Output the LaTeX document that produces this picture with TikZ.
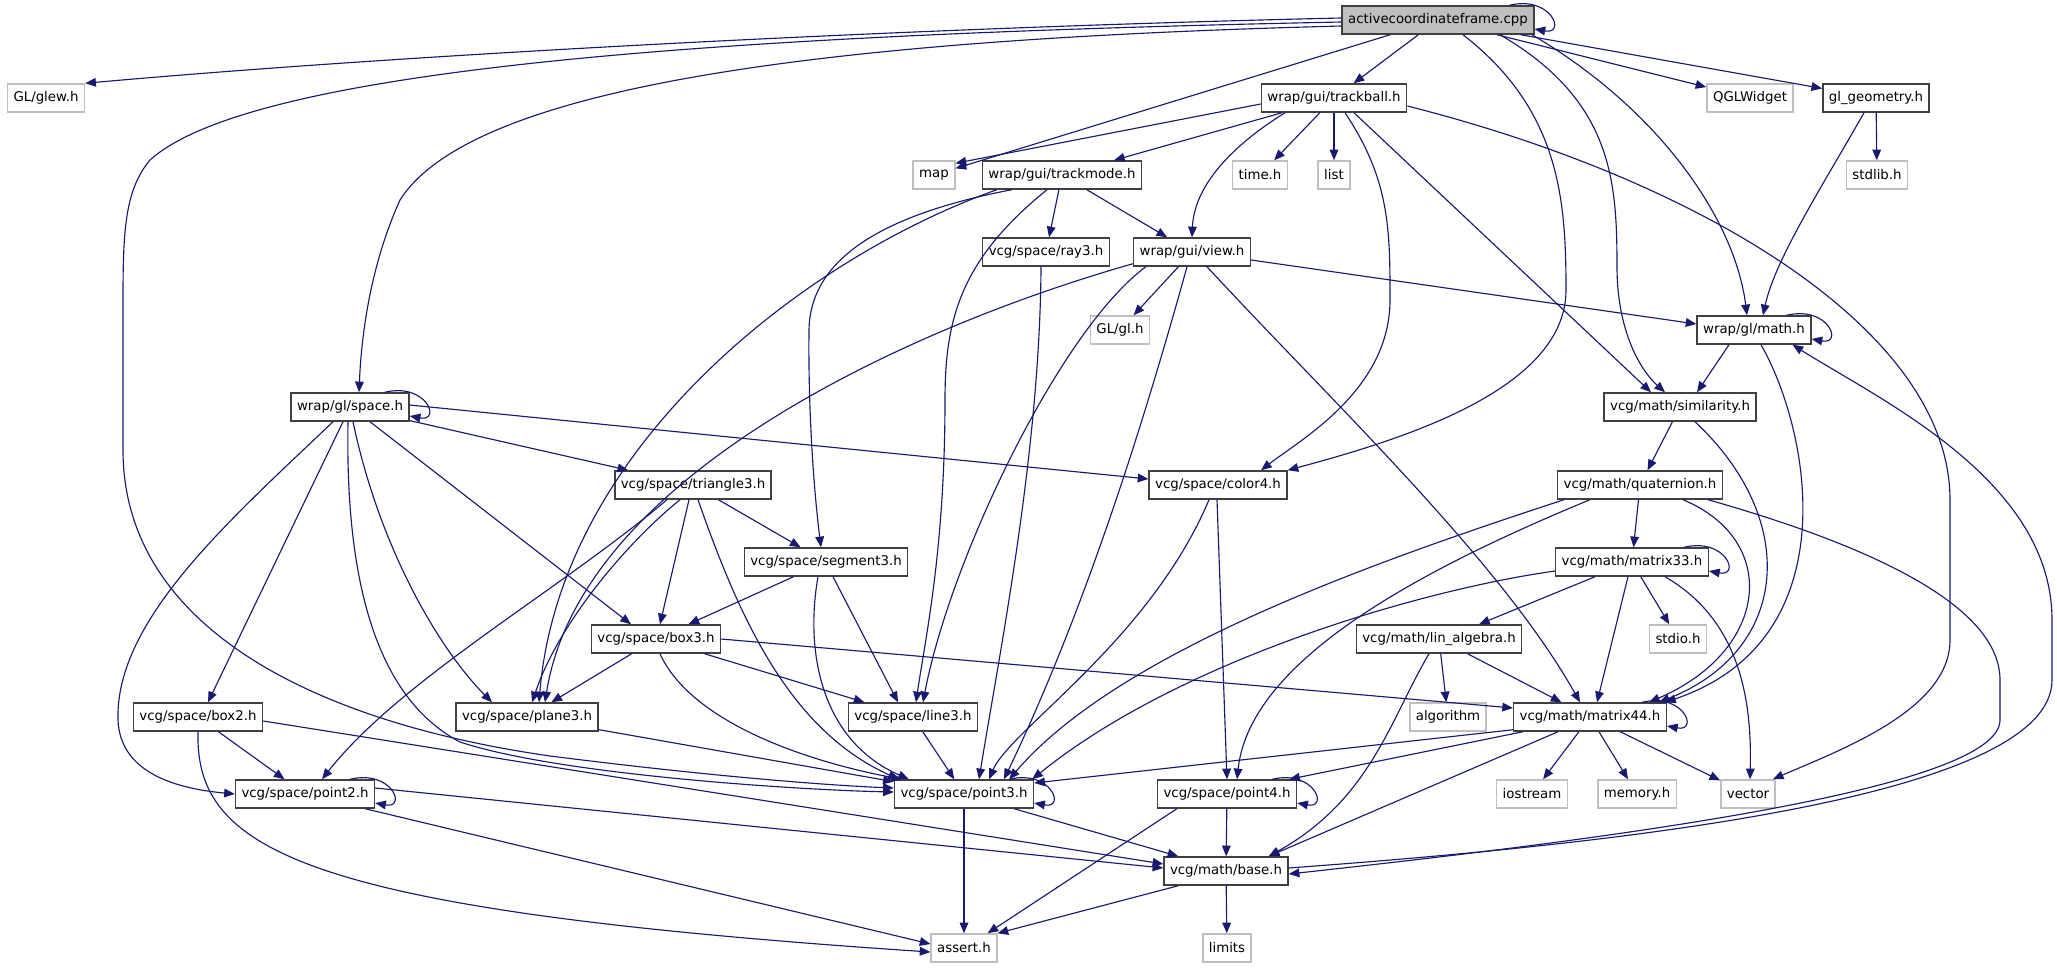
\documentclass[tikz,border=0pt]{standalone}
\usepackage{fontspec}
\setmainfont{DejaVu Sans}
\usetikzlibrary{arrows.meta,calc}
\definecolor{edgeblue}{HTML}{191970}
\definecolor{hdrgray}{HTML}{404040}
\definecolor{sysgray}{HTML}{BFBFBF}
\definecolor{rootgray}{HTML}{BFBFBF}
\begin{document}
\begin{tikzpicture}[x=0.75pt, y=-0.75pt,
	hdr/.style={draw=hdrgray, line width=1.1pt, fill=white, font=\fontsize{10}{12}\selectfont, minimum height=21pt, inner xsep=4.5pt, inner ysep=0pt},
	sys/.style={hdr, draw=sysgray},
	root/.style={hdr, fill=rootgray},
	dep/.style={edgeblue, line width=0.85pt, -{Triangle[length=8pt, width=6.5pt]}}]
	\path[use as bounding box, fill=white] (0,0) rectangle (2057,968);
	\node[root] (A) at (1438,20) {activecoordinateframe.cpp};
	\node[sys] (glew) at (46,98) {GL/glew.h};
	\node[hdr] (T) at (1334,98) {wrap/gui/trackball.h};
	\node[sys] (qgl) at (1750,98) {QGLWidget};
	\node[hdr] (glgeom) at (1876,98) {gl\_geometry.h};
	\node[sys] (map) at (934,175) {map};
	\node[hdr] (tmode) at (1062,175) {wrap/gui/trackmode.h};
	\node[sys] (time) at (1260,175) {time.h};
	\node[sys] (list) at (1334,175) {list};
	\node[sys] (stdlib) at (1877,175) {stdlib.h};
	\node[hdr] (ray3) at (1046,252) {vcg/space/ray3.h};
	\node[hdr] (view) at (1192,252) {wrap/gui/view.h};
	\node[sys] (gl) at (1120,330) {GL/gl.h};
	\node[hdr] (math) at (1754,330) {wrap/gl/math.h};
	\node[hdr] (space) at (350,407) {wrap/gl/space.h};
	\node[hdr] (simil) at (1680,407) {vcg/math/similarity.h};
	\node[hdr] (tri) at (693,485) {vcg/space/triangle3.h};
	\node[hdr] (color) at (1218,485) {vcg/space/color4.h};
	\node[hdr] (quat) at (1640,485) {vcg/math/quaternion.h};
	\node[hdr] (seg) at (826,562) {vcg/space/segment3.h};
	\node[hdr] (m33) at (1632,562) {vcg/math/matrix33.h};
	\node[hdr] (box3) at (656,639) {vcg/space/box3.h};
	\node[hdr] (linalg) at (1439,639) {vcg/math/lin\_algebra.h};
	\node[sys] (stdio) at (1678,639) {stdio.h};
	\node[hdr] (box2) at (198,717) {vcg/space/box2.h};
	\node[hdr] (plane) at (527,717) {vcg/space/plane3.h};
	\node[hdr] (line) at (913,717) {vcg/space/line3.h};
	\node[sys] (algo) at (1448,717) {algorithm};
	\node[hdr] (m44) at (1590,717) {vcg/math/matrix44.h};
	\node[hdr] (pt2) at (305,794) {vcg/space/point2.h};
	\node[hdr] (pt3) at (964,794) {vcg/space/point3.h};
	\node[hdr] (pt4) at (1227,794) {vcg/space/point4.h};
	\node[sys] (iostream) at (1532,794) {iostream};
	\node[sys] (memory) at (1637,794) {memory.h};
	\node[sys] (vector) at (1748,794) {vector};
	\node[hdr] (base) at (1226,871) {vcg/math/base.h};
	\node[sys] (assert) at (964,948) {assert.h};
	\node[sys] (limits) at (1227,948) {limits};
	\foreach \n in {A,math,space,m33,m44,pt2,pt3,pt4}
		\draw[dep] ($(\n.north east)+(-25,0)$) .. controls +(42,-10) and +(32,6) .. ($(\n.east)+(0,9)$);
	\draw[dep] ($(A.west)+(0,-2)$) .. controls (900,28) and (400,55) .. (glew.north east);
	\draw[dep] ($(A.west)+(0,6)$) .. controls (800,40) and (470,90) .. (400,200) .. controls (375,255) and (362,320) .. ($(space.north)+(9,0)$);
	\draw[dep] ($(A.west)+(0,2)$) .. controls (700,35) and (250,70) .. (150,160) .. controls (125,190) and (123,230) .. (123,300) -- (123,450) .. controls (123,620) and (300,720) .. (550,756) .. controls (700,775) and (820,785) .. ($(pt3.west)+(0,-6)$);
	\draw[dep] (A) -- (map);
	\draw[dep] (A) -- (T);
	\draw[dep] ($(A.south)+(25,0)$) .. controls (1560,110) and (1566,200) .. (1566,290) .. controls (1566,390) and (1400,440) .. (color.north east);
	\draw[dep] ($(A.south)+(62,0)$) .. controls (1612,100) and (1617,180) .. (1617,267) .. controls (1617,330) and (1640,370) .. ($(simil.north)+(-15,0)$);
	\draw[dep] ($(A.south)+(94,0)$) .. controls (1660,110) and (1735,220) .. ($(math.north)+(-7,0)$);
	\draw[dep] (A) -- (qgl);
	\draw[dep] (A) -- (glgeom);
	\draw[dep] ($(T.west)+(0,6)$) -- ($(map.north east)+(0,3)$);
	\draw[dep] (T) -- (tmode);
	\draw[dep] (T) -- (time);
	\draw[dep] (T) -- (list);
	\draw[dep] ($(T.south)+(-49,0)$) .. controls (1225,150) and (1194,190) .. (view.north);
	\draw[dep] ($(T.south)+(11,0)$) .. controls (1390,180) and (1390,230) .. (1390,300) .. controls (1390,390) and (1300,440) .. ($(color.north)+(43,0)$);
	\draw[dep] ($(T.south)+(20,0)$) -- ($(simil.north)+(-29,0)$);
	\draw[dep] ($(T.east)+(0,8)$) .. controls (1700,180) and (1950,330) .. (1950,500) -- (1950,640) .. controls (1950,710) and (1840,750) .. ($(vector.north east)+(-3,0)$);
	\draw[dep] (glgeom) -- (stdlib);
	\draw[dep] ($(glgeom.south)+(-12,0)$) .. controls (1820,190) and (1775,260) .. ($(math.north)+(9,0)$);
	\draw[dep] (tmode) -- (ray3);
	\draw[dep] (tmode) -- (view);
	\draw[dep] ($(tmode.south west)+(15,0)$) .. controls (800,260) and (560,450) .. ($(plane.north)+(12,0)$);
	\draw[dep] ($(tmode.south west)+(30,0)$) .. controls (880,215) and (810,260) .. (809,330) .. controls (808,420) and (815,500) .. ($(seg.north)+(-5,0)$);
	\draw[dep] ($(tmode.south)+(-15,0)$) .. controls (960,260) and (945,320) .. (945,400) .. controls (945,550) and (925,640) .. ($(line.north)+(3,0)$);
	\draw[dep] ($(ray3.south)+(-5,0)$) .. controls (1040,450) and (1000,650) .. ($(pt3.north)+(15,0)$);
	\draw[dep] (view) -- (gl);
	\draw[dep] ($(view.east)+(0,8)$) -- ($(math.west)+(0,-6)$);
	\draw[dep] ($(view.south west)+(0,-3)$) .. controls (900,330) and (580,480) .. ($(plane.north)+(18,0)$);
	\draw[dep] ($(view.south west)+(13,0)$) .. controls (1060,330) and (950,560) .. ($(line.north)+(10,0)$);
	\draw[dep] ($(view.south)+(-5,0)$) .. controls (1150,400) and (1090,600) .. ($(pt3.north)+(40,0)$);
	\draw[dep] ($(view.south)+(15,0)$) .. controls (1330,400) and (1500,560) .. ($(m44.north)+(-10,0)$);
	\draw[dep] ($(math.south)+(-25,0)$) -- ($(simil.north)+(17,0)$);
	\draw[dep] ($(math.south)+(7,0)$) .. controls (1810,430) and (1850,640) .. ($(m44.north east)+(-2,0)$);
	\draw[dep] ($(base.east)+(0,-3)$) .. controls (1600,845) and (2052,800) .. (2052,680) -- (2052,620) .. controls (2052,480) and (1880,400) .. ($(math.south east)+(-19,0)$);
	\draw[dep] (space) -- (tri);
	\draw[dep] ($(space.east)+(0,-2)$) -- ($(color.west)+(0,-6)$);
	\draw[dep] ($(space.south)+(20,0)$) -- ($(box3.north)+(-25,0)$);
	\draw[dep] ($(space.south)+(-7,0)$) -- ($(box2.north)+(10,0)$);
	\draw[dep] ($(space.south)+(-17,0)$) .. controls (230,520) and (115,620) .. (118,720) .. controls (120,770) and (170,788) .. (pt2.west);
	\draw[dep] ($(space.south)+(-2,0)$) .. controls (345,590) and (380,700) .. (460,742) .. controls (560,775) and (800,790) .. ($(pt3.west)+(0,-2)$);
	\draw[dep] ($(space.south)+(3,0)$) .. controls (380,550) and (440,650) .. ($(plane.north)+(-35,0)$);
	\draw[dep] (simil) -- (quat);
	\draw[dep] ($(simil.south)+(15,0)$) .. controls (1800,520) and (1790,650) .. ($(m44.north east)+(-8,0)$);
	\draw[dep] (tri) -- (seg);
	\draw[dep] ($(tri.south)+(-4,0)$) -- ($(box3.north)+(4,0)$);
	\draw[dep] ($(tri.south)+(-13,0)$) .. controls (630,540) and (560,620) .. ($(plane.north)+(5,0)$);
	\draw[dep] ($(tri.south)+(-26,0)$) .. controls (560,590) and (400,680) .. ($(pt2.north)+(17,0)$);
	\draw[dep] ($(tri.south)+(5,0)$) .. controls (740,620) and (790,730) .. ($(pt3.north west)+(5,0)$);
	\draw[dep] ($(color.south)+(-9,0)$) .. controls (1150,640) and (1010,730) .. ($(pt3.north)+(25,0)$);
	\draw[dep] ($(color.south)+(-1,0)$) -- (pt4.north);
	\draw[dep] (quat) -- (m33);
	\draw[dep] ($(quat.south west)+(7,0)$) .. controls (1380,560) and (1120,650) .. ($(pt3.north east)+(-25,0)$);
	\draw[dep] ($(quat.south west)+(33,0)$) .. controls (1420,570) and (1250,660) .. ($(pt4.north)+(10,0)$);
	\draw[dep] ($(quat.south)+(43,0)$) .. controls (1780,540) and (1770,650) .. ($(m44.north east)+(-18,0)$);
	\draw[dep] ($(quat.south east)+(-15,0)$) .. controls (1850,540) and (2000,600) .. (2000,680) -- (2000,720) .. controls (2000,790) and (1600,840) .. ($(base.east)+(0,3)$);
	\draw[dep] (seg) -- (box3);
	\draw[dep] ($(seg.south)+(-8,0)$) .. controls (805,650) and (820,740) .. ($(pt3.north west)+(15,0)$);
	\draw[dep] ($(seg.south)+(7,0)$) -- ($(line.north)+(-15,0)$);
	\draw[dep] ($(m33.south)+(-37,0)$) -- ($(linalg.north)+(40,0)$);
	\draw[dep] ($(m33.west)+(0,9)$) .. controls (1420,590) and (1180,660) .. ($(pt3.north east)+(-2,0)$);
	\draw[dep] ($(m33.south)+(-4,0)$) -- ($(m44.north)+(7,0)$);
	\draw[dep] (m33) -- (stdio);
	\draw[dep] ($(m33.south)+(33,0)$) .. controls (1740,620) and (1752,700) .. ($(vector.north)+(2,0)$);
	\draw[dep] (box3) -- (plane);
	\draw[dep] (box3) -- (line);
	\draw[dep] ($(box3.south)+(4,0)$) .. controls (690,720) and (800,760) .. ($(pt3.north west)+(8,0)$);
	\draw[dep] (box3.east) -- ($(m44.west)+(0,-9)$);
	\draw[dep] (linalg) -- (algo);
	\draw[dep] (linalg) -- (m44);
	\draw[dep] ($(linalg.south)+(-10,0)$) .. controls (1390,720) and (1370,800) .. ($(base.north east)+(-20,0)$);
	\draw[dep] (box2) -- (pt2);
	\draw[dep] ($(box2.east)+(0,4)$) -- ($(base.west)+(0,-7)$);
	\draw[dep] (box2.south) .. controls (195,850) and (300,910) .. ($(assert.west)+(0,4)$);
	\draw[dep] (plane) -- (pt3);
	\draw[dep] (line) -- (pt3);
	\draw[dep] ($(m44.south west)+(0,-2)$) -- ($(pt3.east)+(0,-11)$);
	\draw[dep] ($(m44.south west)+(10,0)$) -- ($(pt4.north east)+(-8,0)$);
	\draw[dep] (m44) -- (iostream);
	\draw[dep] (m44) -- (memory);
	\draw[dep] (m44) -- (vector);
	\draw[dep] ($(m44.south)+(-32,0)$) -- ($(base.north east)+(-20,0)$);
	\draw[dep] ($(pt2.east)+(0,-6)$) -- ($(base.west)+(0,-3)$);
	\draw[dep] ($(pt2.south east)+(-10,0)$) -- ($(assert.west)+(0,-4)$);
	\draw[dep] ($(pt3.south east)+(-20,0)$) -- ($(base.north west)+(15,0)$);
	\draw[dep] (pt3) -- (assert);
	\draw[dep] (pt4) -- (base);
	\draw[dep] ($(pt4.south west)+(20,0)$) -- ($(assert.north east)+(-10,0)$);
	\draw[dep] ($(base.south west)+(15,0)$) -- (assert.north east);
	\draw[dep] (base) -- (limits);
\end{tikzpicture}
\end{document}
